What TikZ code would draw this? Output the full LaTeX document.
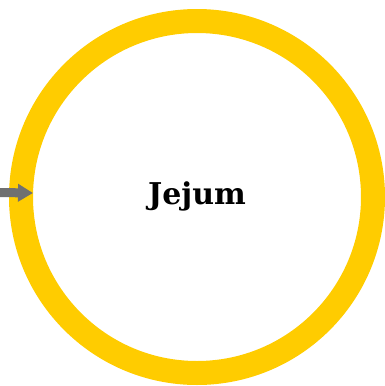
\documentclass[tikz,border=0pt]{standalone}
\usepackage{fontspec}
\newfontfamily\labelfont{DejaVu Serif}
\usetikzlibrary{arrows.meta,calc}
\definecolor{ringyellow}{HTML}{FFCC00}
\definecolor{arrowgray}{HTML}{707070}
\tikzset{
  ringstyle/.style={circle, draw=ringyellow, line width=24pt, minimum size=352pt, inner sep=0pt},
  labelstyle/.style={font=\labelfont\bfseries\fontsize{30}{34}\selectfont, text=black},
  arrowstyle/.style={draw=arrowgray, line width=9pt, -{Triangle[length=15pt,width=17pt]}}
}
\begin{document}
\begin{tikzpicture}[x=1pt,y=1pt]
  \useasboundingbox (0,0) rectangle (385,-386);
  \node[ringstyle] (ring) at (197,-197) {};
  \node[labelstyle] (label) at (197,-196) {Jejum};
  \coordinate (tip) at ($(ring.center)+(-164,4)$);
  \coordinate (start) at (-2,-192.5);
  \draw[arrowstyle] (start) -- (tip);
\end{tikzpicture}
\end{document}
